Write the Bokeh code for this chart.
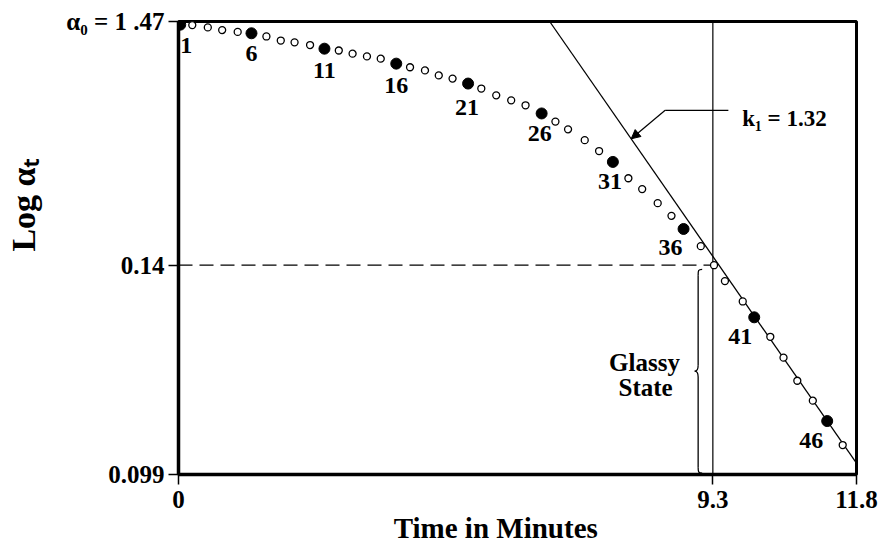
import math
from bokeh.plotting import figure
from bokeh.models import Range1d, FixedTicker, Label, Arrow, NormalHead, ColumnDataSource
from bokeh.core.properties import value
from bokeh.embed import file_html
from bokeh.resources import INLINE

# ---------------- data ----------------
# time of each reading, minutes
time_min = [0.03, 0.24, 0.51, 0.76, 1.03, 1.27, 1.53, 1.78, 2.02, 2.29,
            2.54, 2.79, 3.03, 3.28, 3.52, 3.79, 4.03, 4.29, 4.53, 4.77,
            5.04, 5.27, 5.53, 5.79, 6.04, 6.32, 6.56, 6.78, 7.07, 7.32,
            7.56, 7.83, 8.07, 8.34, 8.58, 8.79, 9.09, 9.32, 9.51, 9.82,
            10.02, 10.30, 10.53, 10.77, 11.04, 11.29, 11.56]
# position on the schematic Log alpha_t axis (0 = 0.099, 46.2 = 0.14, 100 = 1.47)
log_alpha_pos = [99.3, 99.2, 98.7, 98.1, 97.7, 97.4, 96.7, 95.8, 95.4, 94.8,
                 94.0, 93.6, 92.9, 92.3, 91.8, 90.7, 89.9, 89.2, 88.1, 87.4,
                 86.3, 85.2, 83.7, 82.6, 81.5, 79.7, 77.9, 76.2, 73.8, 71.4,
                 69.0, 65.4, 63.0, 59.9, 57.1, 54.2, 50.4, 46.2, 42.7, 38.2,
                 34.7, 30.4, 25.8, 20.7, 16.3, 11.8, 6.5]
labelled_points = [1, 6, 11, 16, 21, 26, 31, 36, 41, 46]

# tangent line (slope k1)
tangent_t = [6.46, 11.8]
tangent_y = [100.0, 2.5]
k1_text = "k\u2081 = 1.32"

# glass transition
t_glass = 9.3
y_glass = 46.2

x_ticks = [0, 9.3, 11.8]
x_tick_labels = ["0", "9.3", "11.8"]
y_ticks = [0, 46.2, 100]
y_tick_labels = ["0.099", "0.14", "\u03b1\u2080 = 1 .47"]

x_title = "Time in Minutes"
y_title = "Log \u03b1\u209c"

# ---------------- styling ----------------
FONT = "Liberation Serif"
NB = "\u00a0"
label_dx = [6, 0, 0, 0, -1, -2, -3, -13, -14, -16]
label_dy = [21, 20, 22, 22, 24, 20, 20, 19, 19, 19]

p = figure(width=881, height=546,
           x_range=Range1d(0, 11.8), y_range=Range1d(0, 100),
           output_backend="svg", toolbar_location=None,
           min_border_left=178, min_border_right=25,
           min_border_top=21, min_border_bottom=68)
p.xgrid.visible = False
p.ygrid.visible = False
p.outline_line_color = "black"
p.outline_line_width = 3
p.background_fill_color = "white"
p.border_fill_color = "white"

for ax, ticks, labels in ((p.xaxis[0], x_ticks, x_tick_labels),
                          (p.yaxis[0], y_ticks, y_tick_labels)):
    ax.ticker = FixedTicker(ticks=ticks)
    ax.major_label_overrides = {t: l for t, l in zip(ticks, labels)}
    ax.major_label_text_font = FONT
    ax.major_label_text_font_style = "bold"
    ax.major_label_text_font_size = "25px"
    ax.major_label_text_color = "black"
    ax.major_tick_out = 10
    ax.major_tick_in = 0
    ax.major_tick_line_width = 1.5
    ax.major_tick_line_color = "black"
    ax.minor_tick_line_color = None
    ax.axis_line_width = 3.5
    ax.axis_line_color = "black"
    ax.major_label_standoff = 4
    ax.axis_label_text_font = FONT
    ax.axis_label_text_font_style = "bold"
    ax.axis_label_text_color = "black"

p.xaxis.major_label_standoff = 6

# axis titles (non-breaking spaces shift the centred title to where the reference has it)
p.xaxis.axis_label = x_title + NB * 6
p.xaxis.axis_label_text_font_size = "29px"
p.xaxis.axis_label_standoff = 1
p.yaxis.axis_label = NB * 10 + y_title
p.yaxis.axis_label_text_font_size = "34px"
p.yaxis.axis_label_standoff = 21

# reference lines
p.line([0, t_glass], [y_glass, y_glass], line_color="black", line_width=1.3,
       line_dash="14 7")
p.line([t_glass, t_glass], [0, 100], line_color="black", line_width=1.2)
p.line(tangent_t, tangent_y, line_color="black", line_width=1.3)

# brace for "Glassy State"
xb = t_glass - 0.256
top = y_glass - 0.9
bot = 0.3
mid = (top + bot) / 2
hx = 0.07
hy = 1.3
p.bezier(x0=[xb + hx, xb, xb - 0.06, xb], y0=[top, mid + hy, mid, bot + hy],
         x1=[xb, xb - 0.06, xb, xb + hx], y1=[top - hy, mid, mid - hy, bot],
         cx0=[xb, xb, xb - 0.02, xb], cy0=[top, mid + 0.3, mid, bot + 0.3],
         cx1=[xb, xb - 0.02, xb, xb], cy1=[top - 0.3, mid, mid - 0.3, bot],
         line_color="black", line_width=1.3)
p.segment(x0=[xb, xb], y0=[top - hy, mid - hy], x1=[xb, xb], y1=[mid + hy, bot + hy],
          line_color="black", line_width=1.3)

# data points
filled = [i for i in range(len(time_min)) if (i + 1) in labelled_points]
opened = [i for i in range(len(time_min)) if (i + 1) not in labelled_points]
p.scatter([time_min[i] for i in opened], [log_alpha_pos[i] for i in opened],
          size=7, marker="circle", fill_color="white", line_color="black", line_width=1.3)
p.scatter([time_min[i] for i in filled], [log_alpha_pos[i] for i in filled],
          size=11, marker="circle", fill_color="black", line_color="black")

lab_src = ColumnDataSource(dict(
    x=[time_min[n - 1] for n in labelled_points],
    y=[log_alpha_pos[n - 1] for n in labelled_points],
    text=[str(n) for n in labelled_points],
    dx=label_dx, dy=label_dy))
p.text(x="x", y="y", text="text", x_offset="dx", y_offset="dy", source=lab_src,
       text_font=value(FONT), text_font_style="bold", text_font_size="24px",
       text_align="center", text_baseline="middle", text_color="black")

# k1 annotation with leader arrow
lead_y = 80.4
tip_y = 74.1
tip_x = tangent_t[0] + (tangent_y[0] - tip_y) / (tangent_y[0] - tangent_y[1]) * (tangent_t[1] - tangent_t[0])
p.line([9.57, 8.47], [lead_y, lead_y], line_color="black", line_width=1.2)
p.add_layout(Arrow(x_start=8.47, y_start=lead_y, x_end=tip_x, y_end=tip_y,
                   line_color="black", line_width=1.2,
                   end=NormalHead(size=9, fill_color="black", line_color="black")))
p.add_layout(Label(x=9.81, y=78.5, text=k1_text, text_font=FONT, text_font_style="bold",
                   text_font_size="23px", text_align="left", text_baseline="alphabetic",
                   text_color="black"))

# Glassy State text
p.add_layout(Label(x=8.11, y=24.8, text="Glassy", text_font=FONT, text_font_style="bold",
                   text_font_size="25px", text_align="center", text_baseline="alphabetic",
                   text_color="black"))
p.add_layout(Label(x=8.13, y=19.3, text="State", text_font=FONT, text_font_style="bold",
                   text_font_size="25px", text_align="center", text_baseline="alphabetic",
                   text_color="black"))

open("out.html", "w").write(file_html(p, INLINE))
